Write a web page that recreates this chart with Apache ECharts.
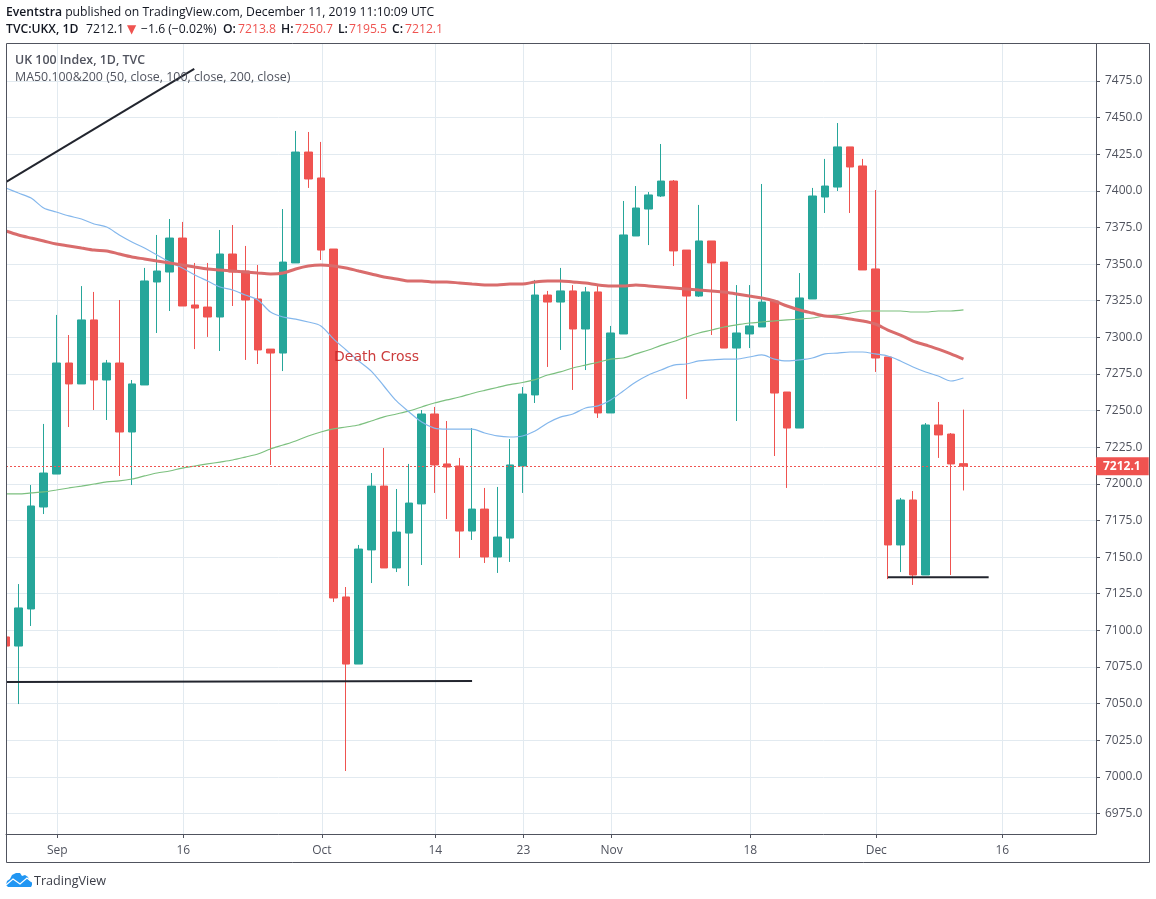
<!DOCTYPE html>
<html>
<head>
<meta charset="utf-8">
<title>UK 100 Index</title>
<script src="https://cdn.jsdelivr.net/npm/echarts@6/dist/echarts.min.js"></script>
<style>
  html, body { margin: 0; padding: 0; background: #fff; }
  #main { width: 1156px; height: 899px; }
</style>
</head>
<body>
<div id="main"></div>
<script>
// trading days, Aug 27 to Dec 16 2019 (last ones have no candle yet)
const dates = [
  '08-27','08-28','08-29','08-30',
  '09-02','09-03','09-04','09-05','09-06','09-09','09-10','09-11','09-12','09-13',
  '09-16','09-17','09-18','09-19','09-20','09-23','09-24','09-25','09-26','09-27','09-30',
  '10-01','10-02','10-03','10-04','10-07','10-08','10-09','10-10','10-11',
  '10-14','10-15','10-16','10-17','10-18','10-21','10-22','10-23','10-24','10-25',
  '10-28','10-29','10-30','10-31','11-01',
  '11-04','11-05','11-06','11-07','11-08','11-11','11-12','11-13','11-14','11-15',
  '11-18','11-19','11-20','11-21','11-22','11-25','11-26','11-27','11-28','11-29',
  '12-02','12-03','12-04','12-05','12-06','12-09','12-10','12-11','12-12','12-13','12-16'
];

const opens = [
  7095.5,7089.3,7114.6,7184.2,7206.7,7282.5,7268.2,7311.9,7270.9,7282.5,
  7235.4,7267.5,7337.8,7344.6,7367.8,7322.1,7320.7,7313.9,7356.9,7345.3,
  7326.2,7292.0,7289.3,7350.8,7426.5,7408.8,7360.3,7122.8,7077.0,7154.9,
  7198.5,7142.6,7166.4,7186.3,7247.7,7213.6,7212.2,7167.8,7182.8,7150.1,
  7163.0,7212.2,7260.7,7328.9,7324.1,7331.7,7305.7,7331.0,7248.4,7302.3,
  7369.2,7387.6,7396.5,7406.7,7359.6,7328.2,7365.8,7351.4,7292.7,7302.3,
  7307.1,7324.8,7262.7,7238.1,7326.2,7395.8,7402.6,7430.0,7417.0,7346.7,
  7286.6,7158.3,7189.0,7137.8,7240.2,7234.0,7213.8
];
const closes = [
  7089.3,7115.3,7184.9,7207.4,7282.5,7268.2,7311.9,7270.9,7282.5,7235.4,
  7268.2,7338.5,7345.3,7367.8,7321.4,7320.0,7313.9,7356.9,7344.6,7325.5,
  7291.4,7289.3,7351.4,7426.5,7408.1,7359.6,7122.1,7077.0,7155.5,7198.5,
  7142.6,7167.1,7186.9,7247.7,7212.9,7211.5,7167.8,7182.8,7150.1,7163.7,
  7212.9,7261.3,7328.9,7324.1,7331.7,7305.7,7331.0,7248.4,7303.0,7369.9,
  7388.3,7397.2,7406.7,7359.0,7328.2,7365.8,7350.8,7292.7,7303.0,7307.8,
  7324.1,7262.0,7238.1,7326.9,7396.5,7403.3,7430.0,7416.3,7346.0,7285.9,
  7158.3,7189.0,7137.8,7240.2,7233.4,7213.6,7212.1
];
const lows = [
  7089.3,7049.7,7103.0,7179.4,7206.7,7238.8,7268.2,7250.4,7243.6,7205.4,
  7199.2,7267.5,7303.0,7318.0,7321.4,7292.0,7300.3,7290.7,7321.4,7284.6,
  7281.8,7212.9,7277.0,7350.8,7402.0,7352.8,7119.4,7004.0,7077.0,7132.3,
  7142.6,7139.8,7130.3,7144.6,7193.8,7176.0,7149.4,7161.7,7146.0,7139.2,
  7146.7,7193.8,7255.2,7279.8,7291.4,7264.1,7277.7,7245.0,7248.4,7302.3,
  7369.2,7363.0,7395.8,7348.7,7257.9,7327.6,7301.6,7292.7,7242.9,7292.7,
  7307.1,7219.0,7197.2,7238.1,7326.2,7384.9,7399.9,7384.9,7346.0,7276.4,
  7135.0,7139.8,7131.0,7137.8,7217.7,7137.8,7195.5
];
const highs = [
  7095.5,7131.6,7199.2,7240.9,7315.3,7301.6,7335.0,7331.0,7284.6,7325.5,
  7270.9,7347.4,7369.9,7380.8,7378.8,7350.8,7350.8,7373.3,7376.7,7362.4,
  7349.4,7292.0,7387.6,7440.9,7440.2,7433.4,7360.3,7129.6,7158.3,7207.4,
  7224.5,7196.5,7213.6,7250.4,7252.5,7242.9,7217.7,7238.1,7197.2,7197.9,
  7230.6,7266.1,7339.2,7331.7,7347.4,7335.7,7334.4,7335.0,7307.8,7393.1,
  7403.3,7399.2,7432.0,7407.4,7359.6,7390.4,7365.8,7351.4,7335.7,7335.7,
  7404.7,7324.8,7262.7,7343.9,7402.0,7421.8,7446.3,7430.0,7421.8,7400.6,
  7286.6,7190.4,7195.1,7241.5,7255.9,7234.7,7250.7
];

const maBlue = [
  7402.0,7398.5,7395.1,7388.3,7385.6,7382.9,7380.8,7377.4,7375.3,7369.9,
  7365.1,7361.0,7356.2,7351.5,7347.4,7342.6,7338.5,7334.4,7332.3,7328.9,
  7325.5,7317.3,7313.9,7312.5,7310.5,7307.8,7299.0,7291.4,7283.9,7277.0,
  7266.8,7256.6,7249.1,7242.2,7238.1,7237.4,7237.4,7237.4,7234.7,7232.7,
  7232.0,7232.7,7236.1,7241.6,7245.6,7247.7,7251.8,7253.2,7257.3,7263.4,
  7269.5,7274.3,7277.7,7281.1,7281.8,7283.9,7284.6,7285.2,7285.2,7286.6,
  7288.0,7285.2,7283.9,7284.6,7285.9,7288.7,7289.3,7290.0,7290.0,7288.7,
  7287.3,7283.9,7279.8,7276.4,7273.6,7270.2,7272.3
];
const maRed = [
  7372.6,7369.9,7367.8,7365.8,7363.7,7362.4,7361.0,7359.6,7359.0,7356.9,
  7354.9,7353.5,7352.1,7350.8,7349.4,7348.0,7346.7,7346.0,7345.3,7344.6,
  7343.9,7343.3,7343.9,7346.7,7348.7,7349.4,7348.7,7347.4,7345.3,7343.3,
  7341.2,7339.9,7338.5,7338.5,7337.8,7337.8,7337.1,7336.4,7335.8,7335.8,
  7336.4,7336.4,7337.8,7338.5,7338.5,7337.8,7337.1,7335.8,7335.1,7335.1,
  7335.8,7335.1,7334.4,7333.7,7333.0,7332.3,7331.7,7331.0,7329.6,7328.2,
  7326.9,7324.8,7321.4,7318.7,7316.6,7314.6,7313.9,7312.5,7311.2,7309.1,
  7305.0,7301.6,7297.5,7294.8,7292.0,7288.7,7285.2
];
const maGreen = [
  7193.1,7193.1,7193.8,7194.5,7195.8,7197.2,7198.5,7199.9,7201.3,7202.0,
  7203.3,7205.4,7207.4,7208.8,7210.8,7212.2,7213.6,7214.9,7216.3,7218.3,
  7220.4,7223.8,7226.5,7229.3,7232.7,7235.4,7237.5,7238.8,7240.2,7242.9,
  7245.7,7247.7,7249.8,7252.5,7255.2,7257.3,7259.3,7261.7,7263.8,7265.8,
  7267.7,7269.2,7271.2,7274.3,7276.4,7279.1,7281.1,7283.0,7285.2,7285.9,
  7288.7,7291.4,7294.5,7297.2,7300.3,7303.0,7305.0,7307.1,7308.5,7309.8,
  7310.5,7311.2,7311.9,7312.5,7313.2,7314.6,7315.3,7316.6,7318.0,7318.0,
  7318.0,7318.0,7317.3,7317.3,7318.0,7318.0,7318.7
];

// hand drawn lines on the chart: [candle index, price]
const trendUp = [[0.06, 7406.3], [14.95, 7483.2]];
const supportLow = [[0, 7064.8], [37, 7065.4]];
const supportDec = [[70, 7136.2], [78, 7136.2]];

const lastClose = 7212.1;

const priceTicks = [
  6975,7000,7025,7050,7075,7100,7125,7150,7175,7200,7225,7250,7275,7300,
  7325,7350,7375,7400,7425,7450,7475
];
const timeTickDates = ['09-02','09-16','10-01','10-14','10-23','11-01','11-18','12-02','12-16'];
const timeTickLabels = ['Sep','16','Oct','14','23','Nov','18','Dec','16'];

// second header line: text, left edge, style
const quoteLine = [
  ['TVC:UKX, 1D', 6, 'b'],
  ['7212.1', 86, 'n'],
  ['▼', 127, 'arrow'],
  ['−1.6 (−0.02%)', 141, 'n'],
  ['O:', 223, 'b'],
  ['7213.8', 238, 'r'],
  ['H:', 281, 'b'],
  ['7250.7', 295, 'r'],
  ['L:', 338, 'b'],
  ['7195.5', 349, 'r'],
  ['C:', 392, 'b'],
  ['7212.1', 405, 'r']
];

const UP = '#26a69a';
const DOWN = '#ef5350';
const FRAME = '#50535e';
const GRID = '#e2eaf0';
const INK = '#131722';
const FONT = '"Open Sans", sans-serif';

const headStyles = {
  b: { font: '600 12.2px ' + FONT, fill: INK },
  r: { font: '12.2px ' + FONT, fill: DOWN },
  n: { font: '12.2px ' + FONT, fill: INK },
  arrow: { font: '12px "DejaVu Sans", sans-serif', fill: DOWN }
};

// gridlines sit one pixel right of the candle they belong to
const tickNudge = 0.08;
const timeTicks = timeTickDates.map(d => dates.indexOf(d) + tickNudge);
const candles = opens.map((o, i) => [i, o, closes[i], lows[i], highs[i]]);
const withIndex = arr => arr.map((v, i) => [i, v]);

const maSeries = (name, values, color, width) => ({
  name, type: 'line', data: withIndex(values), showSymbol: false, smooth: 0.3,
  lineStyle: { color, width }
});
const drawnLine = (name, points) => ({
  name, type: 'line', data: points, showSymbol: false,
  lineStyle: { color: '#22252e', width: 2 }
});

const option = {
  animation: false,
  backgroundColor: '#fff',
  grid: { left: 6, top: 44, width: 1090, height: 790, show: false },
  xAxis: {
    type: 'value',
    min: 0.008,
    max: 86.52,
    axisLine: { show: true, onZero: false, lineStyle: { color: FRAME } },
    axisTick: { customValues: timeTicks, length: 4, lineStyle: { color: FRAME } },
    axisLabel: {
      customValues: timeTicks,
      margin: 11,
      color: FRAME,
      fontFamily: FONT,
      fontSize: 12,
      formatter: v => timeTickLabels[timeTicks.indexOf(v)]
    },
    splitLine: { show: true, lineStyle: { color: GRID } }
  },
  yAxis: {
    type: 'value',
    position: 'right',
    min: 6961,
    max: 7500.25,
    axisLine: { show: true, onZero: false, lineStyle: { color: FRAME } },
    axisTick: { customValues: priceTicks, length: 4, lineStyle: { color: FRAME } },
    axisLabel: {
      customValues: priceTicks,
      margin: 9,
      color: FRAME,
      fontFamily: FONT,
      fontSize: 12,
      verticalAlign: 'top',
      padding: [-6, 0, 0, 0],
      formatter: v => v.toFixed(1)
    },
    splitLine: { show: true, lineStyle: { color: GRID } }
  },
  series: [
    maSeries('MA 200', maGreen, '#7cc07f', 1.2),
    maSeries('MA 50', maBlue, '#84b7ec', 1.2),
    maSeries('MA 100', maRed, '#d96c6c', 3),
    {
      name: 'UKX', type: 'candlestick', data: candles, barWidth: 8,
      itemStyle: { color: UP, color0: DOWN, borderColor: UP, borderColor0: DOWN, borderWidth: 1 },
      markLine: {
        silent: true,
        symbol: 'none',
        data: [{ yAxis: lastClose }],
        lineStyle: { color: DOWN, type: [2, 2], width: 1 },
        label: {
          position: 'end',
          distance: 0,
          formatter: lastClose.toFixed(1),
          backgroundColor: DOWN,
          color: '#fff',
          fontFamily: FONT,
          fontSize: 12,
          fontWeight: 'bold',
          padding: [3, 8, 3, 7]
        }
      }
    },
    drawnLine('trend', trendUp),
    drawnLine('support', supportLow),
    drawnLine('support dec', supportDec)
  ],
  graphic: [
    // the first candle is cut by the left edge, candlestick clip does not crop it
    {
      type: 'rect', silent: true, z: 40,
      shape: { x: 0, y: 44, width: 6, height: 790 },
      style: { fill: '#fff' }
    },
    // outer frame, the plot axes only cover the right and bottom inner edges
    {
      type: 'rect', silent: true, z: 50,
      shape: { x: 6.5, y: 43.5, width: 1143, height: 819 },
      style: { fill: null, stroke: FRAME, lineWidth: 1 }
    },
    {
      type: 'text', x: 6, y: 7, z: 60,
      style: {
        text: '{b|Eventstra}{n| published on TradingView.com, December 11, 2019 11:10:09 UTC}',
        rich: headStyles
      }
    },
    ...quoteLine.map(([text, x, kind]) => ({
      type: 'text', x, y: 24, z: 60,
      style: Object.assign({ text }, headStyles[kind])
    })),
    {
      type: 'text', x: 15, y: 54, z: 60,
      style: { text: 'UK 100 Index, 1D, TVC', font: '600 12.4px ' + FONT, fill: FRAME }
    },
    {
      type: 'text', x: 15, y: 71, z: 60,
      style: { text: 'MA50.100&200 (50, close, 100, close, 200, close)', font: '12.4px ' + FONT, fill: FRAME }
    },
    {
      type: 'text', x: 334, y: 350, z: 60,
      style: { text: 'Death Cross', font: '14px "DejaVu Sans", sans-serif', fill: '#c62828', opacity: 0.9 }
    },
    // TradingView mark and name
    {
      type: 'polygon', silent: true, z: 60,
      shape: {
        points: [[6, 885], [7, 881], [10, 879], [12, 875], [16, 873], [20, 873], [22, 876],
          [25, 875], [28, 877], [29, 880], [32, 882], [32, 885], [31, 887], [8, 887]]
      },
      style: { fill: '#2196f3' }
    },
    {
      type: 'polyline', silent: true, z: 61,
      shape: { points: [[6, 885], [13, 879], [20, 884], [27, 878], [32, 882]] },
      style: { fill: null, stroke: '#fff', lineWidth: 1.2 }
    },
    {
      type: 'text', x: 34, y: 875, z: 60,
      style: { text: 'TradingView', font: '12.6px ' + FONT, fill: '#3a3d47' }
    }
  ]
};

const chart = echarts.init(document.getElementById('main'));
chart.setOption(option);
</script>
</body>
</html>
